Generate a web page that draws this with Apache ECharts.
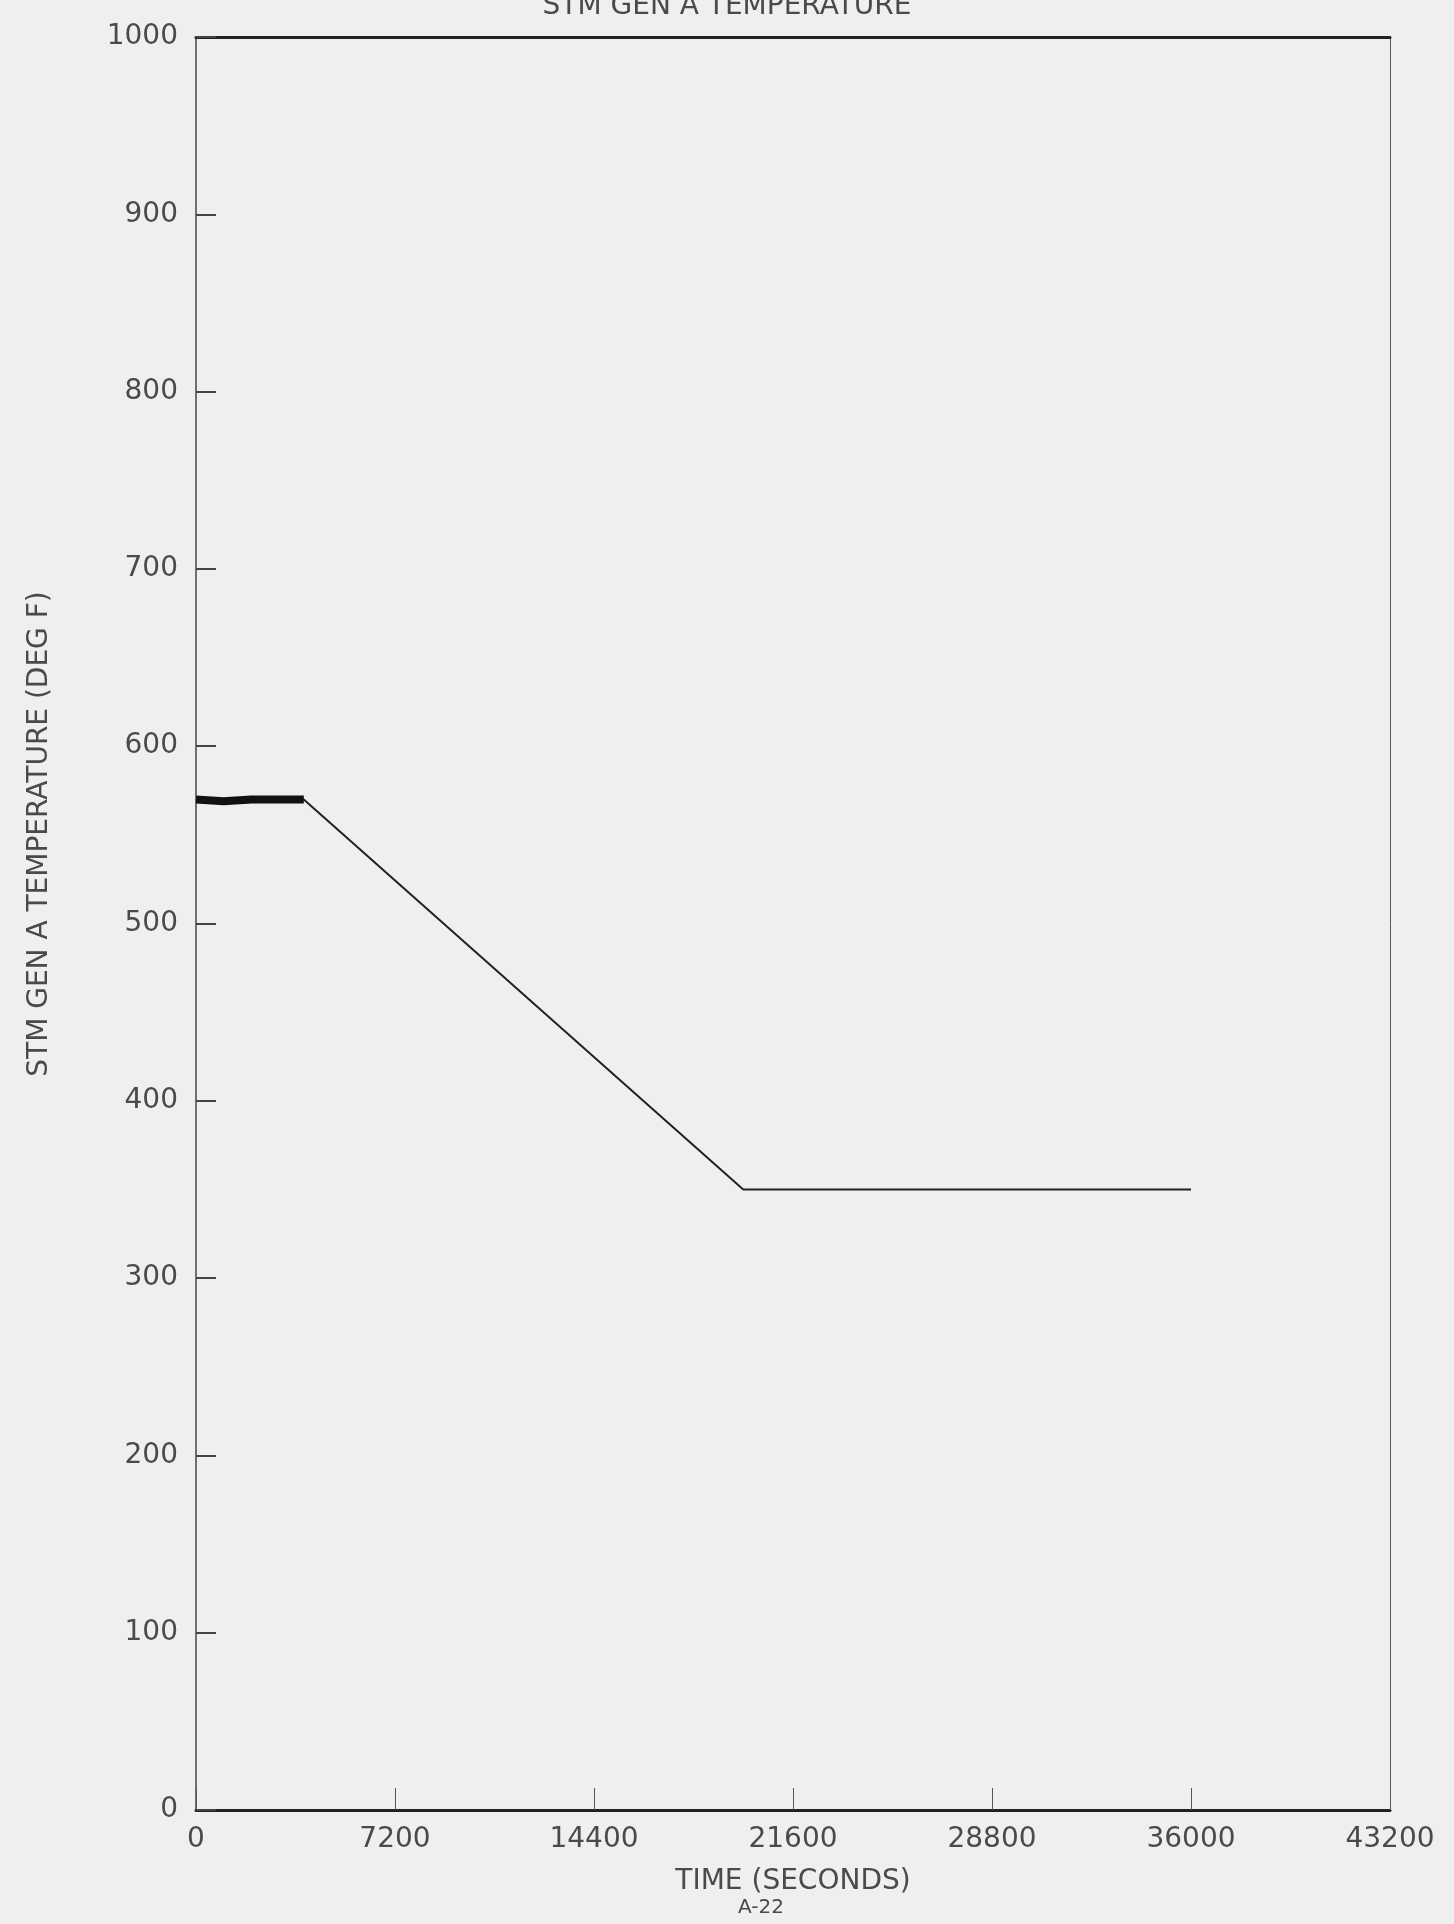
<!DOCTYPE html>
<html>
<head>
<meta charset="utf-8">
<script src="https://cdn.jsdelivr.net/npm/echarts@6/dist/echarts.min.js"></script>
<style>
  html, body { margin: 0; padding: 0; background: #efefef; }
  #chart { width: 1454px; height: 1924px; }
</style>
</head>
<body>
<div id="chart"></div>
<script>
// time (s) and steam generator A temperature (deg F)
const timeSec = [0, 1000, 2000, 3000, 3900, 19800, 24000, 30000, 36000];
const tempF   = [570, 570, 570, 570, 570, 350, 350, 350, 350];
// noisy band at start, drawn heavier
const bandTime = [0, 1000, 2000, 3000, 3900];
const bandTemp = [570, 569, 570, 570, 570];
const xTicks = [0, 7200, 14400, 21600, 28800, 36000, 43200];
const yTicks = [0, 100, 200, 300, 400, 500, 600, 700, 800, 900, 1000];

const ink = '#222';
const labelFont = { color: '#4a4a4a', fontSize: 28, fontFamily: 'DejaVu Sans' };
const plain = v => String(v);

const chart = echarts.init(document.getElementById('chart'));
chart.setOption({
  backgroundColor: '#efefef',
  animation: false,
  title: {
    text: 'STM GEN A TEMPERATURE',
    left: 'center',
    top: -12,
    textStyle: { color: '#4a4a4a', fontSize: 28, fontWeight: 'normal', fontFamily: 'DejaVu Sans' }
  },
  grid: { left: 196, right: 64, top: 37, bottom: 114 },
  xAxis: [{
    type: 'value',
    min: xTicks[0], max: xTicks[xTicks.length - 1], interval: 7200,
    name: 'TIME (SECONDS)', nameLocation: 'middle', nameGap: 58,
    nameTextStyle: { color: '#4a4a4a', fontSize: 28, fontFamily: 'DejaVu Sans' },
    axisLine: { onZero: false, lineStyle: { color: ink, width: 3 } },
    axisTick: { inside: true, length: 22, lineStyle: { color: '#555', width: 1 } },
    axisLabel: Object.assign({ margin: 16, formatter: plain }, labelFont),
    splitLine: { show: false }
  }, {
    type: 'value', position: 'top',
    min: xTicks[0], max: xTicks[xTicks.length - 1], interval: 7200,
    axisLine: { show: true, onZero: false, lineStyle: { color: ink, width: 3 } },
    axisTick: { show: false }, axisLabel: { show: false }, splitLine: { show: false }
  }],
  yAxis: [{
    type: 'value',
    min: yTicks[0], max: yTicks[yTicks.length - 1], interval: 100,
    axisLine: { show: true, onZero: false, lineStyle: { color: '#444', width: 1.5 } },
    axisTick: { show: true, inside: true, length: 20, lineStyle: { color: '#444', width: 2 } },
    axisLabel: Object.assign({ margin: 18, formatter: plain }, labelFont),
    splitLine: { show: false }
  }, {
    type: 'value', position: 'right',
    min: 0, max: 1000, interval: 100,
    axisLine: { show: true, onZero: false, lineStyle: { color: '#555', width: 1 } },
    axisTick: { show: false }, axisLabel: { show: false }, splitLine: { show: false }
  }],
  graphic: [{
    type: 'text', x: 40, y: 834, rotation: Math.PI / 2,
    style: {
      text: 'STM GEN A TEMPERATURE (DEG F)', fill: '#4a4a4a',
      font: '28px "DejaVu Sans"', align: 'center', verticalAlign: 'middle'
    }
  }, {
    type: 'text', x: 761, y: 1908,
    style: { text: 'A-22', fill: '#4a4a4a', font: '20px "DejaVu Sans"', align: 'center', verticalAlign: 'middle' }
  }],
  series: [{
    type: 'line',
    data: timeSec.map((t, i) => [t, tempF[i]]),
    showSymbol: false,
    lineStyle: { color: ink, width: 2 }
  }, {
    type: 'line',
    data: bandTime.map((t, i) => [t, bandTemp[i]]),
    showSymbol: false,
    lineStyle: { color: '#111', width: 8 }
  }]
});
</script>
</body>
</html>
